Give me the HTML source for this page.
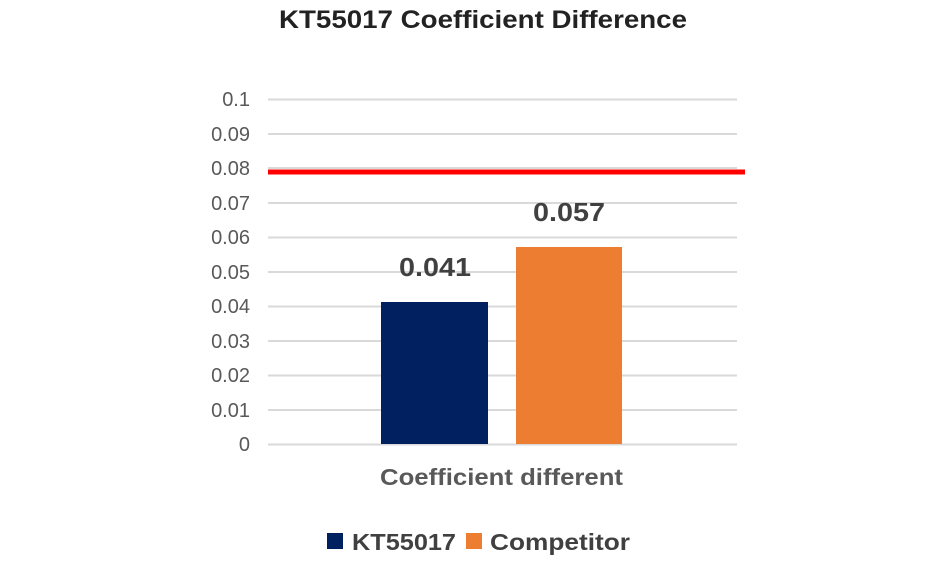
<!DOCTYPE html>
<html><head><meta charset="utf-8"><style>
html,body{margin:0;padding:0;background:#fff;}
svg{display:block;font-family:"Liberation Sans",sans-serif;}
</style></head><body>
<svg width="950" height="570" viewBox="0 0 950 570">
<text x="279" y="28" font-size="25" font-weight="bold" fill="#222" textLength="408" lengthAdjust="spacingAndGlyphs">KT55017 Coefficient Difference</text>
<g stroke="#d9d9d9" stroke-width="2">
<line x1="268" x2="737" y1="99.5" y2="99.5"/>
<line x1="268" x2="737" y1="134" y2="134"/>
<line x1="268" x2="737" y1="168" y2="168"/>
<line x1="268" x2="737" y1="203" y2="203"/>
<line x1="268" x2="737" y1="237.5" y2="237.5"/>
<line x1="268" x2="737" y1="272" y2="272"/>
<line x1="268" x2="737" y1="306.5" y2="306.5"/>
<line x1="268" x2="737" y1="341" y2="341"/>
<line x1="268" x2="737" y1="375.5" y2="375.5"/>
<line x1="268" x2="737" y1="410" y2="410"/>
<line x1="268" x2="737" y1="444.5" y2="444.5"/>
</g>
<g font-size="20" fill="#595959" text-anchor="end">
<text x="250" y="106">0.1</text>
<text x="250" y="141">0.09</text>
<text x="250" y="175">0.08</text>
<text x="250" y="210">0.07</text>
<text x="250" y="244">0.06</text>
<text x="250" y="279">0.05</text>
<text x="250" y="313">0.04</text>
<text x="250" y="348">0.03</text>
<text x="250" y="382">0.02</text>
<text x="250" y="417">0.01</text>
<text x="250" y="451">0</text>
</g>
<rect x="381" y="302" width="107" height="142" fill="#002060"/>
<rect x="516" y="247" width="106" height="197" fill="#ed7d31"/>
<line x1="268" x2="745" y1="172" y2="172" stroke="#ff0000" stroke-width="5"/>
<text x="399" y="276" font-size="26" font-weight="bold" fill="#404040" textLength="72" lengthAdjust="spacingAndGlyphs">0.041</text>
<text x="533" y="221" font-size="26" font-weight="bold" fill="#404040" textLength="72" lengthAdjust="spacingAndGlyphs">0.057</text>
<text x="380" y="485" font-size="23" font-weight="bold" fill="#595959" textLength="243" lengthAdjust="spacingAndGlyphs">Coefficient different</text>
<rect x="327" y="533" width="16" height="16" fill="#002060"/>
<text x="352" y="550" font-size="23" font-weight="bold" fill="#404040" textLength="104" lengthAdjust="spacingAndGlyphs">KT55017</text>
<rect x="466" y="533" width="16" height="16" fill="#ed7d31"/>
<text x="490" y="550" font-size="23" font-weight="bold" fill="#404040" textLength="140" lengthAdjust="spacingAndGlyphs">Competitor</text>
</svg>
</body></html>
